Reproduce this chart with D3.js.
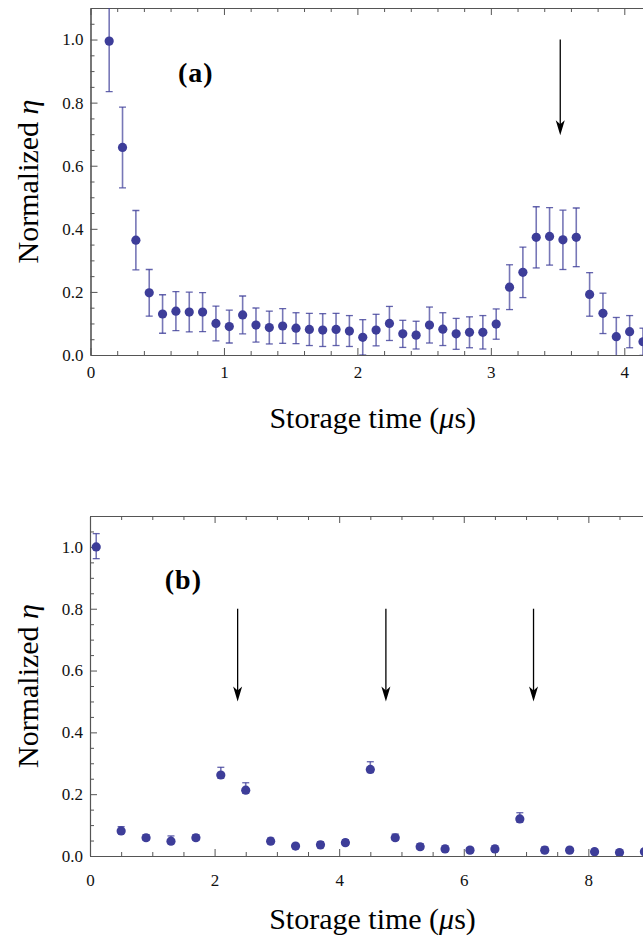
<!DOCTYPE html>
<html><head><meta charset="utf-8">
<script src="https://cdn.jsdelivr.net/npm/d3@7"></script>
<style>body{margin:0;background:#fff}svg{display:block}</style>
</head><body><svg id="c" width="643" height="944"></svg>
<script>
// ---- Panel (a) data ----
const timeA = [0.14,0.24,0.34,0.44,0.54,0.64,0.74,0.84,0.94,1.04,1.14,1.24,1.34,1.44,1.54,1.64,1.74,1.84,1.94,2.04,2.14,2.24,2.34,2.44,2.54,2.64,2.74,2.84,2.94,3.04,3.14,3.24,3.34,3.44,3.54,3.64,3.74,3.84,3.94,4.04,4.14];
const etaA  = [0.995,0.658,0.364,0.197,0.130,0.139,0.136,0.136,0.100,0.090,0.127,0.095,0.087,0.092,0.085,0.081,0.079,0.081,0.076,0.056,0.079,0.100,0.067,0.063,0.095,0.082,0.067,0.072,0.072,0.098,0.215,0.262,0.373,0.376,0.365,0.373,0.192,0.132,0.058,0.074,0.042];
const errA  = [0.160,0.128,0.094,0.074,0.061,0.062,0.063,0.062,0.055,0.052,0.060,0.054,0.052,0.055,0.049,0.051,0.052,0.051,0.049,0.056,0.050,0.054,0.043,0.044,0.057,0.052,0.049,0.049,0.053,0.048,0.071,0.080,0.097,0.091,0.094,0.093,0.069,0.064,0.061,0.051,0.043];
const arrowsA = [3.52];
const xTicksA = [0,1,2,3,4];

// ---- Panel (b) data ----
const timeB = [0.1,0.5,0.9,1.3,1.7,2.1,2.5,2.9,3.3,3.7,4.1,4.5,4.9,5.3,5.7,6.1,6.5,6.9,7.3,7.7,8.1,8.5,8.9];
const etaB  = [1.0,0.081,0.059,0.048,0.059,0.262,0.213,0.048,0.032,0.036,0.043,0.280,0.059,0.030,0.023,0.019,0.023,0.120,0.019,0.019,0.014,0.011,0.014];
const errUpB = [0.043,0.014,0.010,0.017,0.010,0.025,0.024,0.010,0.008,0.010,0.010,0.025,0.012,0.010,0.010,0.008,0.010,0.020,0.010,0.008,0.008,0.007,0.008];
const errDnB = [0.038,0.008,0.008,0.008,0.008,0.010,0.010,0.008,0.008,0.008,0.008,0.010,0.008,0.008,0.008,0.008,0.008,0.010,0.008,0.008,0.008,0.007,0.008];
const arrowsB = [2.37,4.75,7.12];
const xTicksB = [0,2,4,6,8];

const yTicks = [0,0.2,0.4,0.6,0.8,1.0];
const yMinor = [0.05,0.1,0.15,0.25,0.3,0.35,0.45,0.5,0.55,0.65,0.7,0.75,0.85,0.9,0.95,1.05];

const DOT = "#3d3d99";
const FRAME = "#555";
const FONT = "Liberation Serif, Times New Roman, serif";

const svg = d3.select("#c");

function panel(o){
  const g = svg.append("g");
  const x = d3.scaleLinear().domain([0,o.xmax]).range([o.left,o.right]);
  const y = d3.scaleLinear().domain([0,1.1]).range([o.bottom,o.top]);
  const cid = "clip"+o.id;
  svg.append("clipPath").attr("id",cid).append("rect")
    .attr("x",o.left).attr("y",o.top).attr("width",o.right-o.left).attr("height",o.bottom-o.top);

  const xMinor = d3.range(0,o.xmax+1e-9,o.xMinorStep).filter(v=>!o.xTicks.some(t=>Math.abs(t-v)<1e-9));
  function styleAxis(sel){
    sel.attr("font-family",FONT).attr("font-size",17);
    sel.selectAll(".domain").attr("stroke",FRAME).attr("stroke-width",1.1);
    sel.selectAll(".tick line").attr("stroke",FRAME).attr("stroke-width",1);
    sel.selectAll("text").style("font-family",FONT).style("font-size","17px").attr("fill","#111");
  }
  // bottom
  g.append("g").attr("transform",`translate(0,${o.bottom})`)
    .call(d3.axisBottom(x).tickValues(o.xTicks).tickSize(-7).tickSizeOuter(0).tickPadding(o.xPad).tickFormat(d3.format("d")))
    .call(styleAxis);
  g.append("g").attr("transform",`translate(0,${o.bottom})`)
    .call(d3.axisBottom(x).tickValues(xMinor).tickSize(-4).tickSizeOuter(0).tickFormat(""))
    .call(styleAxis);
  // top
  g.append("g").attr("transform",`translate(0,${o.top})`)
    .call(d3.axisTop(x).tickValues(o.xTicks).tickSize(-7).tickSizeOuter(0).tickFormat(""))
    .call(styleAxis);
  g.append("g").attr("transform",`translate(0,${o.top})`)
    .call(d3.axisTop(x).tickValues(xMinor).tickSize(-4).tickSizeOuter(0).tickFormat(""))
    .call(styleAxis);
  // left
  g.append("g").attr("transform",`translate(${o.left},0)`)
    .call(d3.axisLeft(y).tickValues(yTicks).tickSize(-7).tickSizeOuter(0).tickPadding(7).tickFormat(d3.format(".1f")))
    .call(styleAxis);
  g.append("g").attr("transform",`translate(${o.left},0)`)
    .call(d3.axisLeft(y).tickValues(yMinor).tickSize(-4).tickSizeOuter(0).tickFormat(""))
    .call(styleAxis);
  // right frame
  g.append("g").attr("transform",`translate(${o.right},0)`)
    .call(d3.axisRight(y).tickValues(yTicks).tickSize(-7).tickSizeOuter(0).tickFormat(""))
    .call(styleAxis);

  const data = g.append("g").attr("clip-path",`url(#${cid})`);
  const eb = data.selectAll("g.eb").data(o.t.map((t,i)=>({t,v:o.v[i],up:o.up[i],dn:o.dn[i]}))).join("g");
  eb.append("line").attr("x1",d=>x(d.t)).attr("x2",d=>x(d.t))
    .attr("y1",d=>y(d.v+d.up)).attr("y2",d=>y(d.v-d.dn))
    .attr("stroke",DOT).attr("stroke-opacity",0.7).attr("stroke-width",1.6);
  eb.append("line").attr("x1",d=>x(d.t)-3.5).attr("x2",d=>x(d.t)+3.5)
    .attr("y1",d=>y(d.v+d.up)).attr("y2",d=>y(d.v+d.up))
    .attr("stroke",DOT).attr("stroke-opacity",0.8).attr("stroke-width",1.3);
  eb.append("line").attr("x1",d=>x(d.t)-3.5).attr("x2",d=>x(d.t)+3.5)
    .attr("y1",d=>y(d.v-d.dn)).attr("y2",d=>y(d.v-d.dn))
    .attr("stroke",DOT).attr("stroke-opacity",0.8).attr("stroke-width",1.3);
  eb.append("circle").attr("cx",d=>x(d.t)).attr("cy",d=>y(d.v)).attr("r",4.6).attr("fill",DOT);

  o.arrows.forEach(a=>{
    const ax0 = x(a), yt = y(o.arrowTop), yb = y(o.arrowTip);
    g.append("line").attr("x1",ax0).attr("x2",ax0).attr("y1",yt).attr("y2",yb-10)
      .attr("stroke","#000").attr("stroke-width",1.3);
    g.append("path").attr("d",`M${ax0},${yb} L${ax0-4.5},${yb-15} L${ax0},${yb-11} L${ax0+4.5},${yb-15} Z`)
      .attr("fill","#000");
  });

  g.append("text").attr("x",x(o.labX)).attr("y",y(o.labY)).text(o.label)
    .attr("font-family",FONT).attr("font-weight","bold").attr("font-size",28).attr("letter-spacing",1).attr("fill","#000");

  g.append("text").attr("x",(o.left+o.right)/2).attr("y",o.bottom+73).attr("text-anchor","middle")
    .attr("font-family",FONT).attr("font-size",30).attr("fill","#000")
    .call(t=>{t.append("tspan").text("Storage time (");t.append("tspan").attr("font-style","italic").text("\u03bc");t.append("tspan").text("s)");});
  g.append("text").attr("transform",`translate(38,${(o.top+o.bottom)/2}) rotate(-90)`).attr("text-anchor","middle")
    .attr("font-family",FONT).attr("font-size",30).attr("fill","#000")
    .call(t=>{t.append("tspan").text("Normalized ");t.append("tspan").attr("font-style","italic").text("\u03b7");});
}

panel({id:"a",left:90.5,right:655,top:8,bottom:355,xmax:4.23,xTicks:xTicksA,xMinorStep:0.2,xPad:11,
  t:timeA,v:etaA,up:errA,dn:errA,arrows:arrowsA,arrowTop:1.0,arrowTip:0.697,label:"(a)",labX:0.655,labY:0.865});
panel({id:"b",left:90,right:655,top:516,bottom:856,xmax:9.07,xTicks:xTicksB,xMinorStep:0.5,xPad:18,
  t:timeB,v:etaB,up:errUpB,dn:errDnB,arrows:arrowsB,arrowTop:0.8,arrowTip:0.5,label:"(b)",labX:1.2,labY:0.863});
</script></body></html>
